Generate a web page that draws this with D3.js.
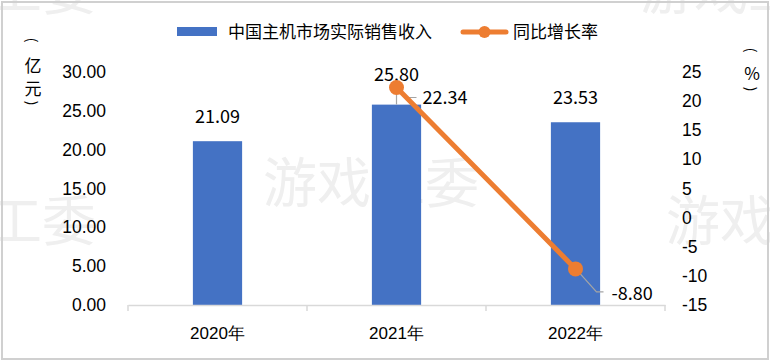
<!DOCTYPE html>
<html>
<head>
<meta charset="utf-8">
<script src="https://cdn.jsdelivr.net/npm/d3@7"></script>
<style>
  body { margin: 0; background: #fff; }
  svg { display: block; font-family: "Noto Sans CJK SC", "Noto Sans", sans-serif; }
</style>
</head>
<body>
<div id="chart"></div>
<script>
const categories = ["2020年", "2021年", "2022年"];
const revenue = [21.09, 25.80, 23.53];
const growth = [null, 22.34, -8.80];
const leftTicks = [0, 5, 10, 15, 20, 25, 30];
const rightTicks = [-15, -10, -5, 0, 5, 10, 15, 20, 25];
const seriesNames = ["中国主机市场实际销售收入", "同比增长率"];
const unitLeft = ["(", "亿", "元", ")"];
const unitRight = ["(", "%", ")"];

const width = 770, height = 362;
const blue = "#4472C4", orange = "#ED7D31", gridGray = "#d9d9d9";
const fmt2 = d => d.toFixed(2);

const svg = d3.select("#chart").append("svg")
  .attr("width", width)
  .attr("height", height);

// watermarks
const wm = svg.append("g").attr("fill", "#efefef").style("font-size", "54px");
wm.append("text").attr("x", 263).attr("y", 203).text("游戏工委");
wm.append("text").attr("x", 96).attr("y", 241).attr("text-anchor", "end").text("游戏工委");
wm.append("text").attr("x", 666).attr("y", 241).text("游戏工委");
wm.append("text").attr("x", 96).attr("y", 10).attr("text-anchor", "end").text("游戏工委");
wm.append("text").attr("x", 640).attr("y", 10).text("游戏工委");

// outer border
svg.append("rect")
  .attr("x", 2).attr("y", 2)
  .attr("width", 766).attr("height", 357)
  .attr("fill", "none")
  .attr("stroke", "#d0d0d0")
  .attr("stroke-width", 2);

const x = d3.scaleBand().domain(categories).range([128, 665]).padding(0);
const yL = d3.scaleLinear().domain([0, 30]).range([305, 72]);
const yR = d3.scaleLinear().domain([-15, 25]).range([305, 72]);
const barW = x.bandwidth() * 0.275;

// bars
svg.append("g").selectAll("rect")
  .data(revenue)
  .join("rect")
  .attr("x", (d, i) => x(categories[i]) + x.bandwidth() / 2 - barW / 2)
  .attr("y", d => yL(d))
  .attr("width", barW)
  .attr("height", d => yL(0) - yL(d))
  .attr("fill", blue);

// x axis baseline and ticks
const xAxis = d3.axisBottom(x).tickSize(0).tickPadding(22);
const xg = svg.append("g").attr("transform", `translate(0,${yL(0)})`).call(xAxis);
xg.select(".domain").attr("stroke", gridGray).attr("stroke-width", 1.5);
xg.selectAll(".tick text").style("font-size", "17px").attr("fill", "#000");
const bounds = categories.map(c => x(c)).concat([x.range()[1]]);
svg.append("g").selectAll("line")
  .data(bounds)
  .join("line")
  .attr("x1", d => d).attr("x2", d => d)
  .attr("y1", yL(0)).attr("y2", yL(0) + 6)
  .attr("stroke", gridGray)
  .attr("stroke-width", 1.5);

// left axis
const lg = svg.append("g").attr("transform", "translate(106,0)")
  .call(d3.axisLeft(yL).tickValues(leftTicks).tickFormat(fmt2).tickSize(0).tickPadding(0));
lg.select(".domain").remove();
lg.selectAll(".tick text").style("font-size", "17.5px").attr("fill", "#000");

// right axis
const rg = svg.append("g").attr("transform", "translate(682,0)")
  .call(d3.axisRight(yR).tickValues(rightTicks).tickFormat(d => String(d)).tickSize(0).tickPadding(0));
rg.select(".domain").remove();
rg.selectAll(".tick text").style("font-size", "17.5px").attr("fill", "#000");

// unit labels, stacked vertically, brackets turned sideways
function unitLabel(xPos, chars, ys) {
  const g = svg.append("g");
  chars.forEach((c, i) => {
    const t = g.append("text")
      .attr("text-anchor", "middle")
      .attr("dominant-baseline", "central")
      .text(c);
    if (c === "(" || c === ")") {
      t.style("font-size", "14px")
        .attr("transform", `translate(${xPos},${ys[i]}) rotate(90)`);
    } else {
      t.style("font-size", "17px").attr("x", xPos).attr("y", ys[i]);
    }
  });
}
unitLabel(33, unitLeft, [40, 64, 87, 103]);
unitLabel(752, unitRight, [50, 72, 89]);

// bar value labels
const barLabelLift = [18, 24, 18];
svg.append("g").selectAll("text")
  .data(revenue)
  .join("text")
  .attr("x", (d, i) => x(categories[i]) + x.bandwidth() / 2)
  .attr("y", (d, i) => yL(d) - barLabelLift[i])
  .attr("text-anchor", "middle")
  .style("font-size", "18px")
  .text(fmt2);

// growth line
const cx = (i) => x(categories[i]) + x.bandwidth() / 2;
const pts = growth.map((v, i) => ({ v, i })).filter(d => d.v !== null);

// leader lines
const leaders = svg.append("g").attr("fill", "none").attr("stroke", "#a5a5a5").attr("stroke-width", 1.2);
const p1 = pts[0], p2 = pts[1];
leaders.append("path")
  .attr("d", `M${cx(p1.i)},${yR(p1.v) + 4}V${yR(p1.v) + 17}M${cx(p1.i) + 8},${yR(p1.v) + 10}H${cx(p1.i) + 20}`);
leaders.append("path")
  .attr("d", `M${cx(p2.i) + 3},${yR(p2.v) + 3}L${cx(p2.i) + 21},${yR(p2.v) + 23}H${cx(p2.i) + 28}`);

const line = d3.line().x(d => cx(d.i)).y(d => yR(d.v));
svg.append("path")
  .datum(pts)
  .attr("d", line)
  .attr("fill", "none")
  .attr("stroke", orange)
  .attr("stroke-width", 5)
  .attr("stroke-linecap", "round");
svg.append("g").selectAll("circle")
  .data(pts)
  .join("circle")
  .attr("cx", d => cx(d.i))
  .attr("cy", d => yR(d.v))
  .attr("r", 7.5)
  .attr("fill", orange);

// growth labels
svg.append("g").selectAll("text")
  .data(pts)
  .join("text")
  .attr("x", d => cx(d.i) + 26 + (d.i === 2 ? 10 : 0))
  .attr("y", d => yR(d.v) + 17 + (d.i === 2 ? 14 : 0))
  .style("font-size", "18px")
  .text(d => fmt2(d.v));

// legend
const leg = svg.append("g");
leg.append("rect").attr("x", 177).attr("y", 27).attr("width", 40).attr("height", 9).attr("fill", blue);
leg.append("text").attr("x", 228).attr("y", 38).style("font-size", "17px").text(seriesNames[0]);
leg.append("line").attr("x1", 463).attr("x2", 506).attr("y1", 32).attr("y2", 32)
  .attr("stroke", orange).attr("stroke-width", 5).attr("stroke-linecap", "round");
leg.append("circle").attr("cx", 484.5).attr("cy", 32).attr("r", 6).attr("fill", orange);
leg.append("text").attr("x", 513).attr("y", 38).style("font-size", "17px").text(seriesNames[1]);
</script>
</body>
</html>
